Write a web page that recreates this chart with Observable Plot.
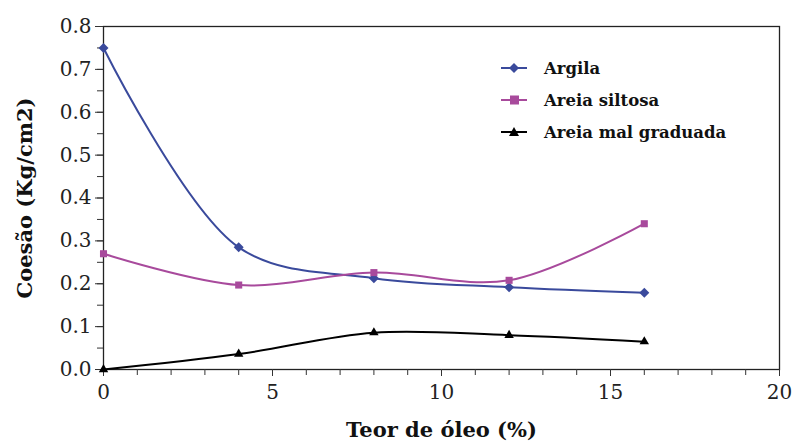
<!DOCTYPE html>
<html><head><meta charset="utf-8">
<script src="https://cdn.jsdelivr.net/npm/d3@7"></script>
<script src="https://cdn.jsdelivr.net/npm/@observablehq/plot@0.6"></script>
<style>
html,body{margin:0;padding:0;background:#fff;}
#wrap{position:relative;width:795px;height:446px;}
#legend{position:absolute;left:496px;top:52px;font-family:"DejaVu Serif",serif;font-weight:bold;font-size:16.5px;color:#111;}
#legend div{display:flex;align-items:center;height:32px;}
#legend svg{margin-right:12px;}
</style></head>
<body><div id="wrap"><div id="chart"></div><div id="legend"></div></div>
<script>
const oilContent = [0, 4, 8, 12, 16];
const seriesNames = ["Argila", "Areia siltosa", "Areia mal graduada"];
const argila = [0.75, 0.285, 0.213, 0.192, 0.179];
const areiaSiltosa = [0.27, 0.197, 0.226, 0.208, 0.34];
const areiaMalGraduada = [0.0, 0.036, 0.086, 0.08, 0.065];
const colors = ["#3a4a9c", "#a84a9c", "#000000"];
const symbols = ["diamond2", "square2", "triangle2"];
const xTicks = [0, 5, 10, 15, 20];
const yTicks = [0, 0.1, 0.2, 0.3, 0.4, 0.5, 0.6, 0.7, 0.8];

const values = [argila, areiaSiltosa, areiaMalGraduada];
const data = [];
seriesNames.forEach((s, i) => oilContent.forEach((x, j) => data.push({series: s, x, y: values[i][j]})));

const font = '"DejaVu Serif", serif';
const chart = Plot.plot({
  width: 795, height: 446,
  marginLeft: 103, marginRight: 16, marginTop: 26, marginBottom: 77,
  style: {fontFamily: font, fontSize: "22px", color: "#222", background: "#fff"},
  x: {domain: [0, 20], label: null},
  y: {domain: [0, 0.8], label: null},
  color: {domain: seriesNames, range: colors},
  symbol: {domain: seriesNames, range: symbols},
  marks: [
    Plot.frame({stroke: "#222", strokeWidth: 1.3}),
    Plot.axisX(d3.range(0, 21, 1), {tickSize: 6, text: null, label: null, stroke: "#333"}),
    Plot.axisX(xTicks, {tickSize: 7, tickPadding: 8, tickFormat: d => d, label: null, stroke: "#333", fontSize: 20, fill: "#222", fontFamily: font}),
    Plot.axisY(d3.range(0, 0.81, 0.05), {tickSize: 6, text: null, label: null, stroke: "#333"}),
    Plot.axisY(yTicks, {tickSize: 8, tickPadding: 4, tickFormat: d3.format(".1f"), label: null, stroke: "#333", fontSize: 20, fill: "#222", fontFamily: font}),
    Plot.line(data, {x: "x", y: "y", z: "series", stroke: "series", curve: "catmull-rom", strokeWidth: 2}),
    Plot.dot(data, {x: "x", y: "y", fill: "series", stroke: "series", symbol: "series", r: 4.5, strokeWidth: 0}),
    Plot.text(["Teor de óleo (%)"], {frameAnchor: "bottom", dy: 67, text: d => d, fontWeight: "bold", fontSize: 21, fill: "#111", fontFamily: font}),
    Plot.text(["Coesão (Kg/cm2)"], {frameAnchor: "left", dx: -78, rotate: -90, textAnchor: "middle", text: d => d, fontWeight: "bold", fontSize: 21, fill: "#111", fontFamily: font})
  ]
});
document.getElementById("chart").appendChild(chart);

const shapes = [
  '<path d="M13,-5 L18,0 L13,5 L8,0Z" />',
  '<rect x="9" y="-4.5" width="9" height="9" />',
  '<path d="M13,-5 L18,4 L8,4Z" />'
];
const leg = document.getElementById("legend");
seriesNames.forEach((s, i) => {
  const row = document.createElement("div");
  row.innerHTML = `<svg width="36" height="14" viewBox="-4 -7 34 14"><line x1="0" x2="26" y1="0" y2="0" stroke="${colors[i]}" stroke-width="2"/><g fill="${colors[i]}">${shapes[i]}</g></svg><span>${s}</span>`;
  leg.appendChild(row);
});
</script></body></html>
